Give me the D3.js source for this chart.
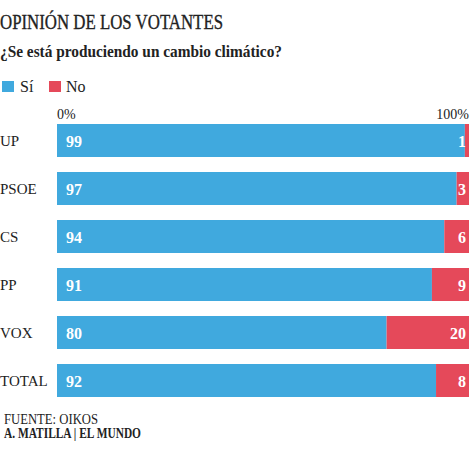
<!DOCTYPE html>
<html><head><meta charset="utf-8">
<script src="https://cdn.jsdelivr.net/npm/d3@7"></script>
<style>body{margin:0;background:#fff}svg{display:block}text{font-family:"Liberation Serif","DejaVu Serif",serif}</style>
</head><body><svg id="c" width="474" height="453"></svg>
<script>
const categories = ["UP","PSOE","CS","PP","VOX","TOTAL"];
const si = [99,97,94,91,80,92];
const no = [1,3,6,9,20,8];
const seriesNames = ["Sí","No"];
const axisTicks = ["0%","100%"];
const colors = {si:"#40a9de", no:"#e5495a"};

const svg = d3.select("#c");
const x = d3.scaleLinear().domain([0,100]).range([57,469]);
const y = d3.scaleBand().domain(categories).range([124,397]).paddingInner(0.3125).paddingOuter(0);

svg.append("text").attr("x",0).attr("y",29).attr("font-size",21.5).attr("fill","#222")
  .attr("stroke","#222").attr("stroke-width",0.35)
  .attr("textLength",223).attr("lengthAdjust","spacingAndGlyphs").text("OPINIÓN DE LOS VOTANTES");
svg.append("text").attr("x",0).attr("y",57).attr("font-size",17).attr("font-weight","bold").attr("fill","#222")
  .attr("textLength",282).attr("lengthAdjust","spacingAndGlyphs").text("¿Se está produciendo un cambio climático?");

// legend
const lg = svg.append("g");
[[2,colors.si,20,seriesNames[0]],[49,colors.no,66,seriesNames[1]]].forEach(([sx,c,tx,t])=>{
  lg.append("rect").attr("x",sx).attr("y",81).attr("width",12).attr("height",11).attr("fill",c);
  lg.append("text").attr("x",tx).attr("y",92).attr("font-size",16).attr("fill","#222").text(t);
});

// axis tick labels
svg.append("text").attr("x",x(0)).attr("y",119).attr("font-size",14).attr("fill","#222").text(axisTicks[0]);
svg.append("text").attr("x",x(100)).attr("y",119).attr("font-size",14).attr("fill","#222").attr("text-anchor","end").text(axisTicks[1]);

const rows = svg.append("g").selectAll("g").data(categories).join("g");
rows.append("rect").attr("x",x(0)).attr("y",d=>y(d)).attr("height",y.bandwidth())
  .attr("width",(d,i)=>x(si[i])-x(0)).attr("fill",colors.si);
rows.append("rect").attr("x",(d,i)=>x(si[i])).attr("y",d=>y(d)).attr("height",y.bandwidth())
  .attr("width",(d,i)=>x(100)-x(si[i])).attr("fill",colors.no);
rows.append("text").attr("x",0).attr("y",d=>y(d)+y.bandwidth()/2+5).attr("font-size",15).attr("fill","#222").text(d=>d);
rows.append("text").attr("x",x(0)+9).attr("y",d=>y(d)+y.bandwidth()/2+6).attr("font-size",16).attr("font-weight","bold").attr("fill","#fff").text((d,i)=>si[i]);
rows.append("text").attr("x",x(100)-3).attr("text-anchor","end").attr("y",d=>y(d)+y.bandwidth()/2+6).attr("font-size",16).attr("font-weight","bold").attr("fill","#fff").text((d,i)=>no[i]);

svg.append("text").attr("x",4).attr("y",424).attr("font-size",14).attr("fill","#222")
  .attr("textLength",94).attr("lengthAdjust","spacingAndGlyphs").text("FUENTE: OIKOS");
svg.append("text").attr("x",4).attr("y",438).attr("font-size",14).attr("font-weight","bold").attr("fill","#222")
  .attr("textLength",137).attr("lengthAdjust","spacingAndGlyphs").text("A. MATILLA | EL MUNDO");
</script></body></html>
